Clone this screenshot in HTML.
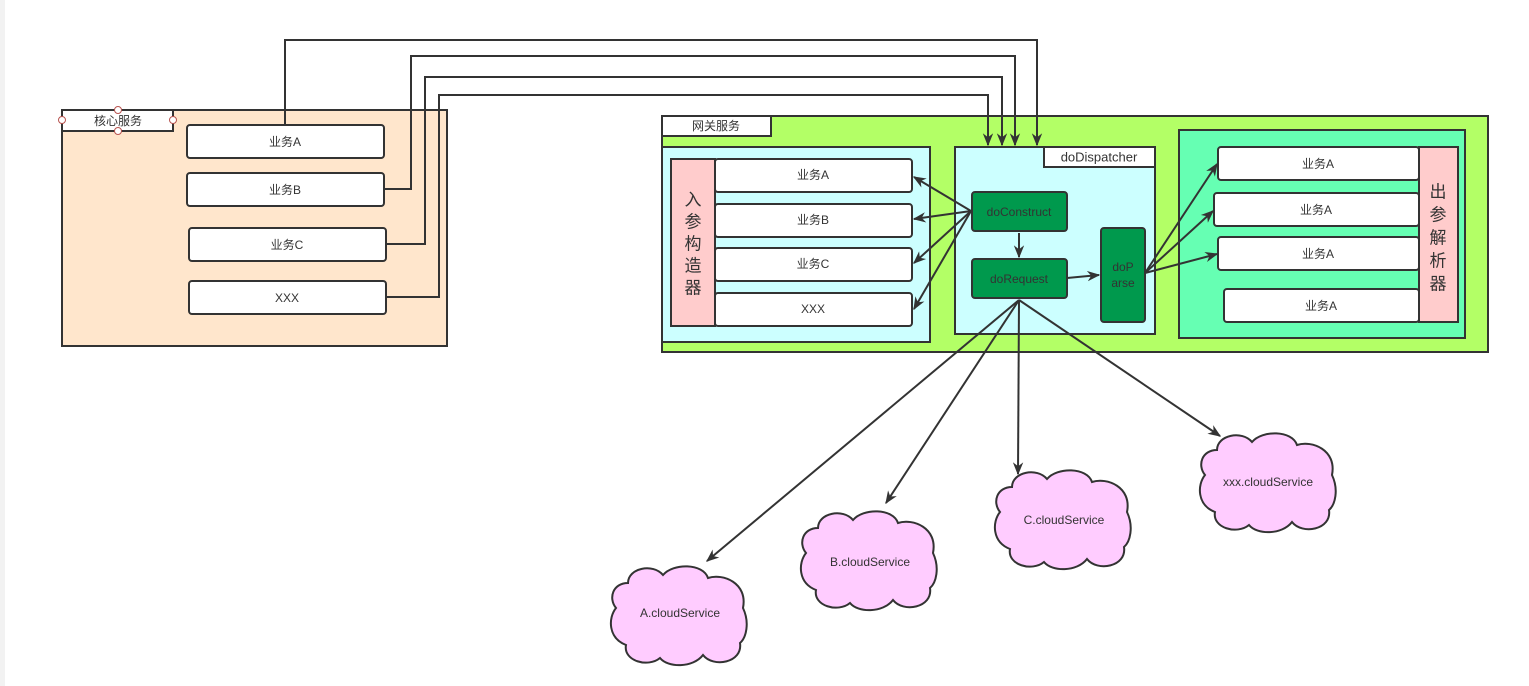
<!DOCTYPE html>
<html><head><meta charset="utf-8"><style>
body{margin:0;background:#fff;}
svg{display:block;font-family:"Liberation Sans","Noto Sans CJK SC",sans-serif;}
text{fill:#333;font-size:12px;text-anchor:middle;dominant-baseline:central;}
</style></head><body>
<svg width="1529" height="686" viewBox="0 0 1529 686">
<defs>
<marker id="a" viewBox="0 0 10 10" refX="9" refY="5" markerWidth="13" markerHeight="13" markerUnits="userSpaceOnUse" orient="auto"><path d="M0,1 L10,5 L0,9 L3,5 Z" fill="#333"/></marker>
<path id="cl" d="M20 20 C20 5 45 0 55 12 C65 0 95 0 100 15 C115 10 140 20 135 45 C142 60 138 75 132 80 C135 100 105 105 95 92 C85 105 60 105 52 95 C40 105 15 98 18 82 C0 75 0 55 8 45 C0 35 5 20 20 20 Z" fill="#ffccff" stroke="#333" stroke-width="2"/>
</defs>
<rect x="0" y="0" width="5" height="686" fill="#f2f2f2"/>
<g stroke="#333" stroke-width="2" fill="none">
<rect x="62" y="110" width="385" height="236" fill="#ffe6cc"/>
<rect x="62" y="110" width="111" height="21" fill="#fff"/>
</g>
<g stroke="#b85450" stroke-width="1" fill="#fff"><circle cx="118" cy="110" r="3.5"/><circle cx="118" cy="131" r="3.5"/><circle cx="62" cy="120" r="3.5"/><circle cx="173" cy="120" r="3.5"/></g>
<text x="118" y="121">核心服务</text>
<g stroke="#333" stroke-width="2" fill="#fff">
<rect x="187" y="125" width="197" height="33" rx="3"/>
<rect x="187" y="173" width="197" height="33" rx="3"/>
<rect x="189" y="228" width="197" height="33" rx="3"/>
<rect x="189" y="281" width="197" height="33" rx="3"/>
</g>
<text x="285" y="142">业务A</text><text x="285" y="190">业务B</text><text x="287" y="245">业务C</text><text x="287" y="298">XXX</text>
<g stroke="#333" stroke-width="2">
<rect x="662" y="116" width="826" height="236" fill="#b3ff66"/>
<rect x="662" y="116" width="109" height="20" fill="#fff"/>
<rect x="662" y="147" width="268" height="195" fill="#ccffff"/>
<rect x="671" y="159" width="44" height="167" fill="#ffcccc"/>
<rect x="715" y="159" width="197" height="33" rx="3" fill="#fff"/>
<rect x="715" y="204" width="197" height="33" rx="3" fill="#fff"/>
<rect x="715" y="248" width="197" height="33" rx="3" fill="#fff"/>
<rect x="715" y="293" width="197" height="33" rx="3" fill="#fff"/>
<rect x="955" y="147" width="200" height="187" fill="#ccffff"/>
<rect x="1044" y="147" width="111" height="20" fill="#fff"/>
<rect x="972" y="192" width="95" height="39" rx="3" fill="#00994d"/>
<rect x="972" y="259" width="95" height="39" rx="3" fill="#00994d"/>
<rect x="1101" y="228" width="44" height="94" rx="3" fill="#00994d"/>
<rect x="1179" y="130" width="286" height="208" fill="#66ffb3"/>
<rect x="1218" y="147" width="201" height="33" rx="3" fill="#fff"/>
<rect x="1214" y="193" width="205" height="33" rx="3" fill="#fff"/>
<rect x="1218" y="237" width="201" height="33" rx="3" fill="#fff"/>
<rect x="1224" y="289" width="195" height="33" rx="3" fill="#fff"/>
<rect x="1419" y="147" width="39" height="175" fill="#ffcccc"/>
</g>
<text x="716" y="126">网关服务</text>
<text x="1099" y="157" style="font-size:13px">doDispatcher</text>
<text x="813" y="175">业务A</text><text x="813" y="220">业务B</text><text x="813" y="264">业务C</text><text x="813" y="309">XXX</text>
<text x="693" y="200" style="font-size:17px">入</text><text x="693" y="222" style="font-size:17px">参</text><text x="693" y="244" style="font-size:17px">构</text><text x="693" y="266" style="font-size:17px">造</text><text x="693" y="288" style="font-size:17px">器</text>
<text x="1438" y="192" style="font-size:17px">出</text><text x="1438" y="215" style="font-size:17px">参</text><text x="1438" y="238" style="font-size:17px">解</text><text x="1438" y="261" style="font-size:17px">析</text><text x="1438" y="284" style="font-size:17px">器</text>
<text x="1019" y="212">doConstruct</text><text x="1019" y="279">doRequest</text>
<text x="1123" y="267">doP</text><text x="1123" y="283">arse</text>
<text x="1318" y="164">业务A</text><text x="1316" y="210">业务A</text><text x="1318" y="254">业务A</text><text x="1321" y="306">业务A</text>
<g stroke="#333" stroke-width="2" fill="none" marker-end="url(#a)">
<path d="M285 125 V40 H1037 V145"/>
<path d="M384 189 H411 V56 H1015 V145"/>
<path d="M386 244 H425 V77 H1002 V145"/>
<path d="M386 297 H439 V95 H988 V145"/>
<path d="M971 211 L914 177"/><path d="M971 211 L914 219"/><path d="M971 211 L914 263"/><path d="M971 211 L914 309"/>
<path d="M1019 233 V257"/>
<path d="M1067 278 L1099 275"/>
<path d="M1145 273 L1217 164"/><path d="M1145 273 L1213 211"/><path d="M1145 273 L1217 254"/>
<path d="M1019 300 L707 561"/><path d="M1019 300 L886 503"/><path d="M1019 300 L1018 474"/><path d="M1019 300 L1220 436"/>
</g>
<use href="#cl" transform="translate(608,563)"/>
<use href="#cl" transform="translate(798,508)"/>
<use href="#cl" transform="translate(992,467)"/>
<use href="#cl" transform="translate(1197,430)"/>
<text x="680" y="613">A.cloudService</text>
<text x="870" y="562">B.cloudService</text>
<text x="1064" y="520">C.cloudService</text>
<text x="1268" y="482">xxx.cloudService</text>
</svg>
</body></html>
